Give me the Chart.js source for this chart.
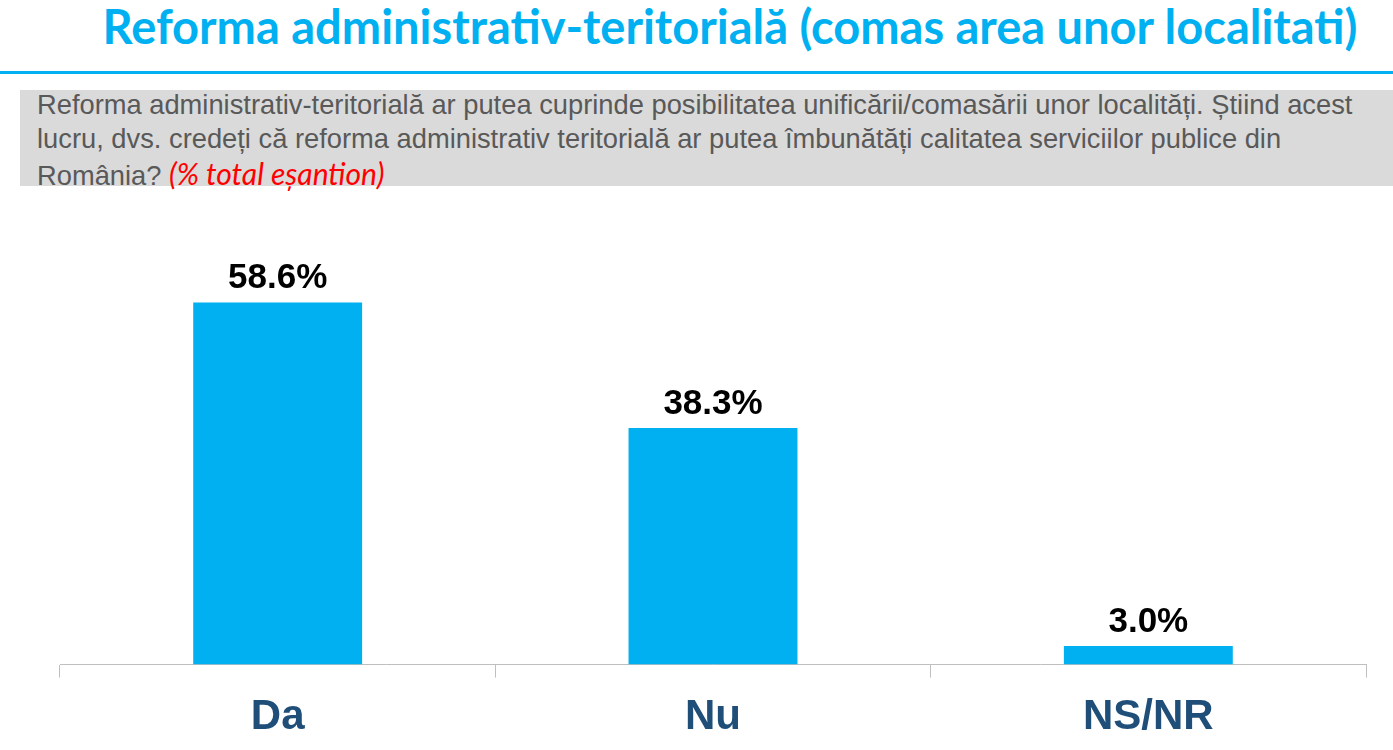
<!DOCTYPE html>
<html>
<head>
<meta charset="utf-8">
<script src="https://cdn.jsdelivr.net/npm/chart.js@4/dist/chart.umd.min.js"></script>
<style>
  html, body { margin:0; padding:0; background:#ffffff; }
  body { width:1393px; height:750px; position:relative; overflow:hidden; }
  #title { position:absolute; left:0; top:-2px; width:1460px; text-align:center;
           font-family:"Lato","Open Sans",sans-serif; font-weight:700; font-size:47px;
           color:#00B0F0; white-space:nowrap; line-height:56px; }
  #rule { position:absolute; left:0; top:71px; width:1393px; height:3px; background:#00B0F0; }
  #box { position:absolute; left:20px; top:90px; width:1373px; height:96px; background:#dadada; }
  #sub { position:absolute; left:37px; top:88px; width:1350px;
         font-family:"Liberation Sans","Arial",sans-serif; font-size:27.3px; color:#595959;
         line-height:34px; white-space:nowrap; }
  #sub .red { color:#ff0000; font-family:"Lato","Open Sans",sans-serif; font-style:italic; font-size:30px; }
  #wrap { position:absolute; left:0; top:206px; width:1393px; height:560px; }
</style>
</head>
<body>
<div id="title">Reforma administrativ-teritorială (comas area unor localitati)</div>
<div id="rule"></div>
<div id="box"></div>
<div id="sub">Reforma administrativ-teritorială ar putea cuprinde posibilitatea unificării/comasării unor localități. Știind acest<br>lucru, dvs. credeți că reforma administrativ teritorială ar putea îmbunătăți calitatea serviciilor publice din<br>România? <span class="red">(% total eșantion)</span></div>
<div id="wrap"><canvas id="c"></canvas></div>
<script>
const categories = ["Da", "Nu", "NS/NR"];
const values = [58.6, 38.3, 3.0];
const valueLabels = ["58.6%", "38.3%", "3.0%"];

const labelPlugin = {
  id: 'barLabels',
  afterDatasetsDraw(chart) {
    const ctx = chart.ctx;
    const meta = chart.getDatasetMeta(0);
    ctx.save();
    ctx.font = 'bold 35px "Liberation Sans", Arial, sans-serif';
    ctx.fillStyle = '#000000';
    ctx.textAlign = 'center';
    ctx.textBaseline = 'alphabetic';
    meta.data.forEach((bar, i) => {
      ctx.fillText(valueLabels[i], bar.x, bar.y - 14);
    });
    ctx.restore();
  }
};

new Chart(document.getElementById('c'), {
  type: 'bar',
  data: {
    labels: categories,
    datasets: [{
      data: values,
      backgroundColor: '#00B0F0',
      borderWidth: 0,
      barPercentage: 0.388,
      categoryPercentage: 1.0
    }]
  },
  options: {
    responsive: true,
    maintainAspectRatio: false,
    animation: false,
    layout: { padding: { left: 60, right: 27, top: 26, bottom: 8 } },
    plugins: { legend: { display: false }, tooltip: { enabled: false } },
    scales: {
      y: { display: false, min: 0, max: 70 },
      x: {
        offset: true,
        grid: { display: true, offset: true, drawOnChartArea: false, drawTicks: true,
                tickLength: 13, color: '#bfbfbf', lineWidth: 1 },
        border: { display: true, color: '#bfbfbf', width: 1 },
        ticks: { color: '#1F4E79', padding: 15,
                 font: { family: '"Liberation Sans", Arial, sans-serif', size: 42, weight: 'bold' } }
      }
    }
  },
  plugins: [labelPlugin]
});
</script>
</body>
</html>
